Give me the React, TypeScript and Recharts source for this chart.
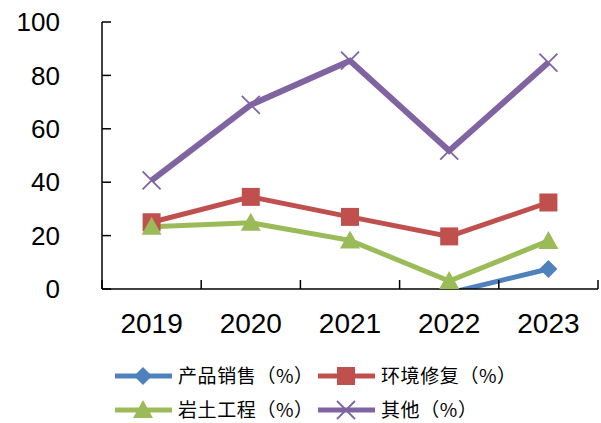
import React from "react";
import { LineChart, Line, XAxis, YAxis, Legend } from "recharts";

const YEARS = ["2019", "2020", "2021", "2022", "2023"];
const SALES = [null, null, null, -1.5, 7.5];
const REMEDIATION = [25.0, 34.5, 27.0, 19.7, 32.4];
const GEOTECH = [23.3, 24.8, 18.2, 3.0, 18.0];
const OTHER = [40.7, 69.0, 85.5, 51.8, 84.8];
const Y_TICKS = [0, 20, 40, 60, 80, 100];

const BLUE = "#4F81BD";
const RED = "#C0504D";
const GREEN = "#9BBB59";
const PURPLE = "#8064A2";

const data = YEARS.map((year, i) => ({
  pos: i + 0.5,
  year,
  sales: SALES[i],
  remediation: REMEDIATION[i],
  geotech: GEOTECH[i],
  other: OTHER[i],
}));

// category boundaries get the tick marks, centres get the labels
const BOUNDARIES = YEARS.map((_, i) => i).concat(YEARS.length);
const CENTERS = YEARS.map((_, i) => i + 0.5);

type Shape = "diamond" | "square" | "triangle" | "cross";

function marker(shape: Shape, color: string, cx: number, cy: number, key?: string) {
  switch (shape) {
    case "diamond":
      return (
        <path key={key} d={`M${cx},${cy - 9}L${cx + 9},${cy}L${cx},${cy + 9}L${cx - 9},${cy}Z`} fill={color} />
      );
    case "square":
      return <rect key={key} x={cx - 9} y={cy - 9} width={18} height={18} fill={color} />;
    case "triangle":
      return <path key={key} d={`M${cx},${cy - 10}L${cx + 10},${cy + 8}L${cx - 10},${cy + 8}Z`} fill={color} />;
    default:
      return (
        <path
          key={key}
          d={`M${cx - 9},${cy - 9}L${cx + 9},${cy + 9}M${cx - 9},${cy + 9}L${cx + 9},${cy - 9}`}
          stroke={color}
          strokeWidth={1.8}
          fill="none"
        />
      );
  }
}

const dotOf = (shape: Shape, color: string) => (p: any) => {
  const key = `${shape}-${p.index}`;
  if (p.cx == null || p.cy == null || p.value == null) return <g key={key} />;
  return marker(shape, color, p.cx, p.cy, key);
};

const SERIES: { key: string; name: string; color: string; shape: Shape; width: number }[] = [
  { key: "sales", name: "产品销售（%）", color: BLUE, shape: "diamond", width: 5 },
  { key: "remediation", name: "环境修复（%）", color: RED, shape: "square", width: 5 },
  { key: "geotech", name: "岩土工程（%）", color: GREEN, shape: "triangle", width: 5 },
  { key: "other", name: "其他（%）", color: PURPLE, shape: "cross", width: 6 },
];

const LEGEND_COLS = [115, 318];
const LEGEND_ROWS = [17, 51];

function LegendBox() {
  return (
    <svg width={601} height={64} style={{ display: "block" }}>
      {SERIES.map((s, i) => {
        const x = LEGEND_COLS[i % 2];
        const y = LEGEND_ROWS[Math.floor(i / 2)];
        return (
          <g key={s.key}>
            <line x1={x} x2={x + 57} y1={y} y2={y} stroke={s.color} strokeWidth={5} />
            {marker(s.shape, s.color, x + 28, y)}
            <text
              x={x + 63}
              y={y}
              dy="0.36em"
              fontSize={19}
              letterSpacing={0.6}
              fontFamily="'Noto Sans CJK SC', sans-serif"
              fill="#000"
            >
              {s.name}
            </text>
          </g>
        );
      })}
    </svg>
  );
}

export default function App() {
  return (
    <div style={{ position: "absolute", left: 0, top: 0, background: "#fff" }}>
      <LineChart
        width={601}
        height={423}
        data={data}
        margin={{ top: 22, right: 3, bottom: 0, left: 0 }}
        style={{ fontFamily: "'Liberation Sans', Arial, sans-serif" }}
      >
        <XAxis
          xAxisId="axis-b"
          type="number"
          dataKey="pos"
          domain={[0, YEARS.length]}
          ticks={CENTERS}
          height={69}
          axisLine={false}
          tickLine={false}
          tickSize={0}
          tickMargin={23}
          interval={0}
          tickFormatter={(v: number) => YEARS[Math.floor(v)]}
          tick={{ fontSize: 28, fill: "#000" }}
        />
        <XAxis
          xAxisId="axis-a"
          type="number"
          dataKey="pos"
          domain={[0, YEARS.length]}
          ticks={BOUNDARIES}
          height={1}
          tickSize={-9}
          tickFormatter={() => ""}
          stroke="#000"
          strokeWidth={1.5}
          tickLine={{ stroke: "#000", strokeWidth: 1.5 }}
        />
        <YAxis
          type="number"
          domain={[0, 100]}
          ticks={Y_TICKS}
          allowDataOverflow
          width={102}
          tickSize={-9}
          tickMargin={51}
          interval={0}
          stroke="#000"
          strokeWidth={1.5}
          tickLine={{ stroke: "#000", strokeWidth: 1.5 }}
          tick={{ fontSize: 26, fill: "#000" }}
        />
        <Legend verticalAlign="bottom" height={64} content={() => <LegendBox />} />
        {SERIES.map((s) => (
          <Line
            key={s.key}
            xAxisId="axis-b"
            type="linear"
            dataKey={s.key}
            name={s.name}
            stroke={s.color}
            strokeWidth={s.width}
            dot={dotOf(s.shape, s.color)}
            activeDot={false}
            isAnimationActive={false}
          />
        ))}
      </LineChart>
    </div>
  );
}
